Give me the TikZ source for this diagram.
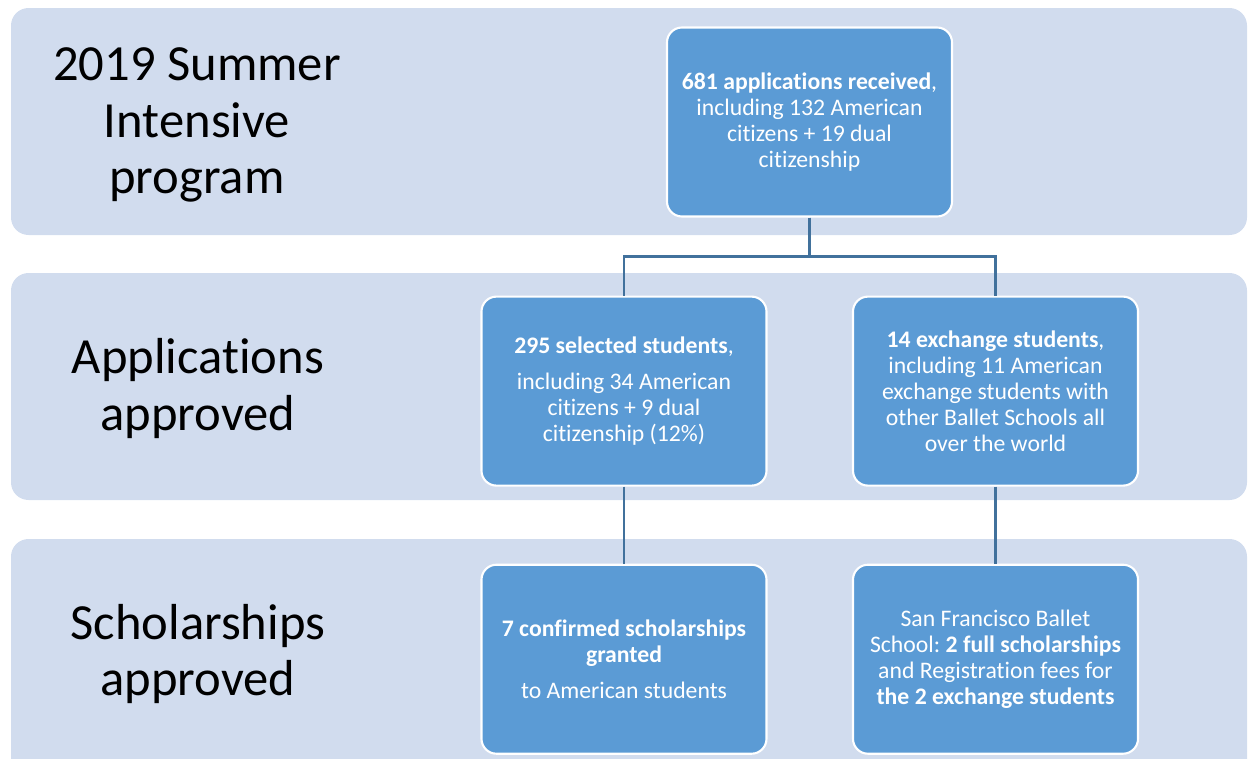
\documentclass[tikz,border=0pt]{standalone}
\usepackage{fontspec}
\setmainfont{Carlito}[Ligatures={NoCommon,NoRequired,NoContextual}]
\frenchspacing
\usetikzlibrary{positioning}
\definecolor{bandfill}{HTML}{D1DCEE}
\definecolor{boxfill}{HTML}{5B9BD5}
\definecolor{linkcol}{HTML}{41719C}

\begin{document}
\begin{tikzpicture}[
		band/.style={fill=bandfill, rounded corners=10pt},
		stage/.style={font=\fontsize{28.8}{32}\selectfont, align=center, text=black},
		info/.style={draw=white, line width=1.2pt, fill=boxfill, rounded corners=8.5pt, text=white, align=center,
			minimum width=5.7cm, minimum height=3.78cm, font=\fontsize{13.5}{14.7}\selectfont},
		link/.style={draw=linkcol, line width=1.6pt}
		]
		
		\useasboundingbox (0,0) rectangle (24.96,-15.18);
		
		% ==========================================
		% 1. BACKGROUND BANDS
		% ==========================================
		
		\fill[band] (0.22,-0.16) rectangle (24.94,-4.70);
		\fill[band] (0.22,-5.46) rectangle (24.94,-10.00);
		\fill[band] (0.22,-10.78) rectangle (24.94,-15.60);
		
		% Stage labels
		\node[stage] (prog) at (3.94,-2.50) {2019 Summer\\Intensive\\program};
		\node[stage] (apps) at (3.96,-7.77) {Applications\\approved};
		\node[stage] (schol) at (3.96,-13.08) {Scholarships\\approved};
		
		% ==========================================
		% 2. FLOW BOXES
		% ==========================================
		
		\node[info] (recv) at (16.19,-2.44) {
			\textbf{681 applications received},\\
			including 132 American\\
			citizens + 19 dual\\
			citizenship
		};
		\node[info, below=1.56cm of recv, xshift=-3.71cm] (sel) {
			\textbf{295 selected students},\\[6pt]
			including 34 American\\
			citizens + 9 dual\\
			citizenship (12\%)
		};
		\node[info, below=1.56cm of recv, xshift=3.72cm] (exch) {
			\textbf{14 exchange students},\\
			including 11 American\\
			exchange students with\\
			other Ballet Schools all\\
			over the world
		};
		\node[info, below=1.54cm of sel] (grant) {
			\textbf{7 confirmed scholarships}\\
			\textbf{granted}\\[6pt]
			to American students
		};
		\node[info, below=1.54cm of exch] (sfb) {
			San Francisco Ballet\\
			School: \textbf{2 full scholarships}\\
			and Registration fees for\\
			\textbf{the 2 exchange students}
		};
		
		% Connectors
		\draw[link] (recv.south) -- ++(0,-0.78) -| (sel.north);
		\draw[link] (recv.south) -- ++(0,-0.78) -| (exch.north);
		\draw[link] (sel) -- (grant);
		\draw[link] (exch) -- (sfb);
		
	\end{tikzpicture}
\end{document}
